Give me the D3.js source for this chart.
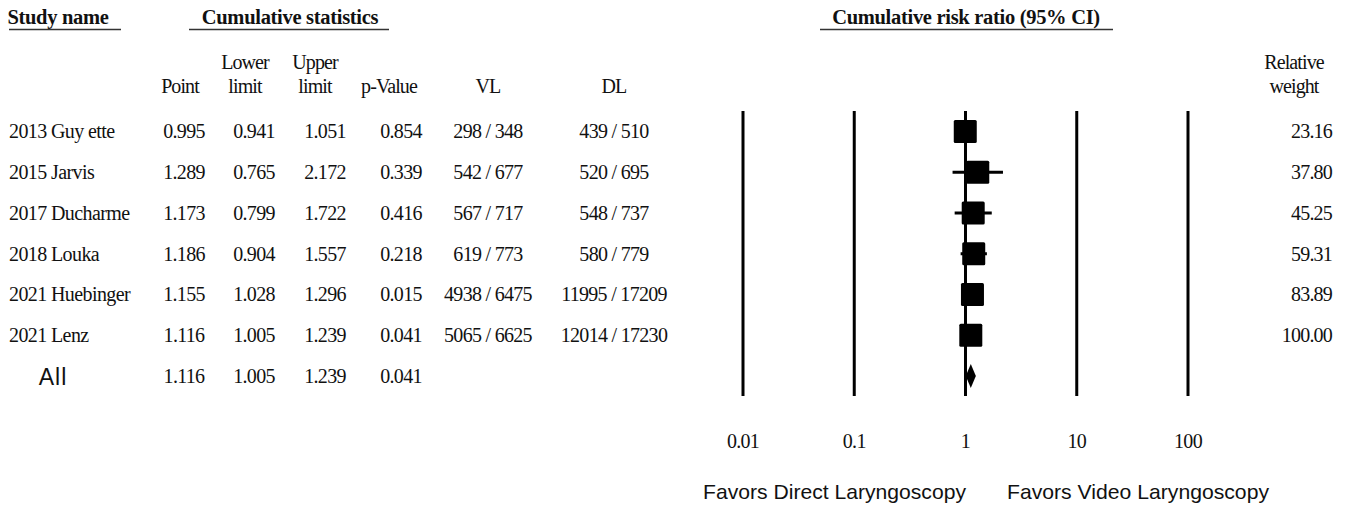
<!DOCTYPE html>
<html>
<head>
<meta charset="utf-8">
<script src="https://cdn.jsdelivr.net/npm/d3@7"></script>
<style>
  body { margin: 0; background: #fff; }
  svg text { fill: #111; }
  .serif { font-family: "Liberation Serif", "Times New Roman", serif; }
  .sans { font-family: "Liberation Sans", Arial, sans-serif; }
</style>
</head>
<body>
<div id="chart"></div>
<script>
// The dataset
var studies = ['2013 Guyette', '2015 Jarvis', '2017 Ducharme', '2018 Louka', '2021 Huebinger', '2021 Lenz'];
var pointEst = [0.995, 1.289, 1.173, 1.186, 1.155, 1.116];
var lowerLim = [0.941, 0.765, 0.799, 0.904, 1.028, 1.005];
var upperLim = [1.051, 2.172, 1.722, 1.557, 1.296, 1.239];
var pValues = [0.854, 0.339, 0.416, 0.218, 0.015, 0.041];
var vlEvents = ['298 / 348', '542 / 677', '567 / 717', '619 / 773', '4938 / 6475', '5065 / 6625'];
var dlEvents = ['439 / 510', '520 / 695', '548 / 737', '580 / 779', '11995 / 17209', '12014 / 17230'];
var relWeight = [23.16, 37.80, 45.25, 59.31, 83.89, 100.00];
var overall = {point: 1.116, lower: 1.005, upper: 1.239, p: 0.041};
var tickValues = [0.01, 0.1, 1, 10, 100];

var width = 1360, height = 505;
var fs = '20px', ls = '-0.7';

var svg = d3.select('#chart').append('svg')
  .attr('width', width)
  .attr('height', height);

// scales
var x = d3.scaleLog().domain([0.01, 100]).range([743, 1188]);
var y = d3.scaleLinear().domain([0, 6]).range([131.5, 376]);
var fmt3 = d3.format('.3f'), fmt2 = d3.format('.2f');

// header titles with underlines
function title(txt, cx, x1, x2) {
  svg.append('text').attr('class', 'serif')
    .attr('x', cx).attr('y', 24)
    .attr('text-anchor', 'middle')
    .style('font-size', '20.5px').style('font-weight', 'bold')
    .attr('letter-spacing', '-0.3')
    .text(txt);
  svg.append('line')
    .attr('x1', x1).attr('x2', x2).attr('y1', 29.5).attr('y2', 29.5)
    .attr('stroke', '#333').attr('stroke-width', 1.5);
}
title('Study name', 58, 9, 121);
title('Cumulative statistics', 290, 189, 389);
title('Cumulative risk ratio (95% CI)', 966, 820, 1113);

// column headers
var headers = [
  {l1: '', l2: 'Point', cx: 180},
  {l1: 'Lower', l2: 'limit', cx: 245},
  {l1: 'Upper', l2: 'limit', cx: 315},
  {l1: '', l2: 'p-Value', cx: 389},
  {l1: '', l2: 'VL', cx: 488},
  {l1: '', l2: 'DL', cx: 614},
  {l1: 'Relative', l2: 'weight', cx: 1294}
];
headers.forEach(function (h) {
  var g = svg.append('text').attr('class', 'serif')
    .attr('text-anchor', 'middle')
    .style('font-size', fs)
    .attr('letter-spacing', '-0.9');
  g.append('tspan').attr('x', h.cx).attr('y', 69).text(h.l1);
  g.append('tspan').attr('x', h.cx).attr('y', 93).text(h.l2);
});

// table rows
var cols = [
  {cx: 184, vals: pointEst.map(fmt3)},
  {cx: 254, vals: lowerLim.map(fmt3)},
  {cx: 325, vals: upperLim.map(fmt3)},
  {cx: 401, vals: pValues.map(fmt3)},
  {cx: 488, vals: vlEvents},
  {cx: 614, vals: dlEvents}
];

var rows = svg.selectAll('g.row')
  .data(studies)
  .enter()
  .append('g')
  .attr('class', 'row')
  .attr('transform', function (d, i) { return 'translate(0,' + (y(i) + 6.8) + ')'; });

rows.append('text').attr('class', 'serif')
  .attr('x', 9)
  .style('font-size', fs)
  .attr('letter-spacing', '-0.6')
  .text(function (d) { return d === '2013 Guyette' ? '2013 Guy ette' : d; });

cols.forEach(function (c) {
  rows.append('text').attr('class', 'serif')
    .attr('x', c.cx)
    .attr('text-anchor', 'middle')
    .style('font-size', fs)
    .attr('letter-spacing', ls)
    .text(function (d, i) { return c.vals[i]; });
});

rows.append('text').attr('class', 'serif')
  .attr('x', 1332)
  .attr('text-anchor', 'end')
  .style('font-size', fs)
  .attr('letter-spacing', '-0.8')
  .text(function (d, i) { return fmt2(relWeight[i]); });

// overall row
var yAll = y(6) + 6.8;
svg.append('text').attr('class', 'sans')
  .attr('x', 53).attr('y', yAll + 2)
  .attr('text-anchor', 'middle')
  .style('font-size', '23px')
  .attr('letter-spacing', '1')
  .text('All');
[overall.point, overall.lower, overall.upper, overall.p].forEach(function (v, k) {
  svg.append('text').attr('class', 'serif')
    .attr('x', cols[k].cx).attr('y', yAll)
    .attr('text-anchor', 'middle')
    .style('font-size', fs)
    .attr('letter-spacing', ls)
    .text(fmt3(v));
});

// vertical reference lines
svg.selectAll('line.grid')
  .data(tickValues)
  .enter()
  .append('line')
  .attr('class', 'grid')
  .attr('x1', function (d) { return x(d); })
  .attr('x2', function (d) { return x(d); })
  .attr('y1', 111).attr('y2', 396)
  .attr('stroke', '#000').attr('stroke-width', 3);

// axis labels
svg.selectAll('text.tick')
  .data(tickValues)
  .enter()
  .append('text')
  .attr('class', 'serif tick')
  .attr('x', function (d) { return x(d); })
  .attr('y', 448)
  .attr('text-anchor', 'middle')
  .style('font-size', fs)
  .attr('letter-spacing', ls)
  .text(function (d) { return String(d); });

// confidence intervals
svg.selectAll('line.ci')
  .data(studies)
  .enter()
  .append('line')
  .attr('class', 'ci')
  .attr('x1', function (d, i) { return x(lowerLim[i]); })
  .attr('x2', function (d, i) { return x(upperLim[i]); })
  .attr('y1', function (d, i) { return y(i); })
  .attr('y2', function (d, i) { return y(i); })
  .attr('stroke', '#000').attr('stroke-width', 3);

// point squares
var sq = 23;
svg.selectAll('rect.pt')
  .data(studies)
  .enter()
  .append('rect')
  .attr('class', 'pt')
  .attr('x', function (d, i) { return x(pointEst[i]) - sq / 2; })
  .attr('y', function (d, i) { return y(i) - sq / 2; })
  .attr('width', sq).attr('height', sq)
  .attr('rx', 1.5)
  .attr('fill', '#000');

// summary diamond
var yd = y(6);
svg.append('path')
  .attr('d', 'M' + x(overall.lower) + ',' + yd +
    'L' + x(overall.point) + ',' + (yd - 12) +
    'L' + x(overall.upper) + ',' + yd +
    'L' + x(overall.point) + ',' + (yd + 12) + 'Z')
  .attr('fill', '#000');

// favours labels
svg.append('text').attr('class', 'sans')
  .attr('x', 703).attr('y', 499)
  .style('font-size', '21px')
  .attr('textLength', 263).attr('lengthAdjust', 'spacingAndGlyphs')
  .text('Favors Direct Laryngoscopy');
svg.append('text').attr('class', 'sans')
  .attr('x', 1007).attr('y', 499)
  .style('font-size', '21px')
  .attr('textLength', 262).attr('lengthAdjust', 'spacingAndGlyphs')
  .text('Favors Video Laryngoscopy');
</script>
</body>
</html>
